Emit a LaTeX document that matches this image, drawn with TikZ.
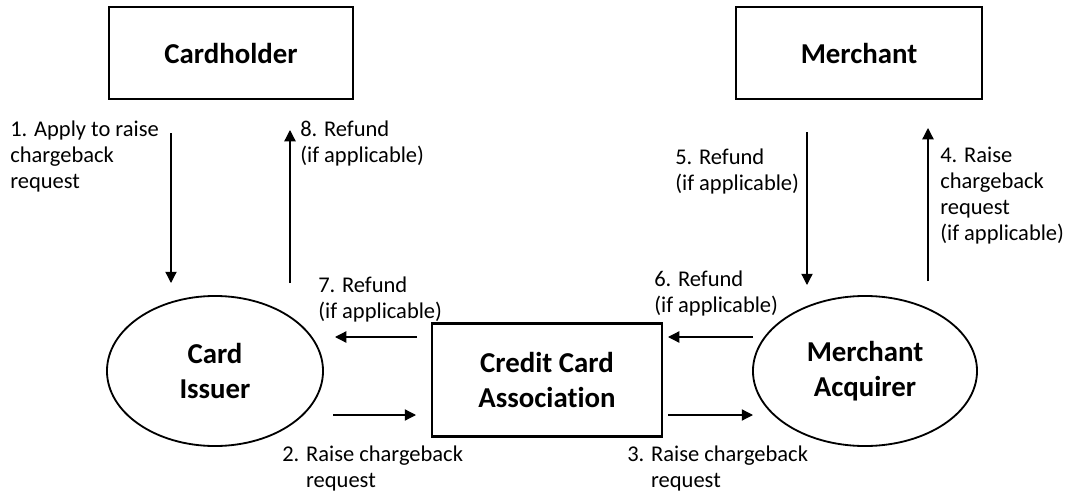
\documentclass[tikz,border=0pt]{standalone}
\usepackage{fontspec}
\setmainfont[Ligatures=NoCommon]{Carlito}
\usetikzlibrary{arrows.meta, positioning, calc, shapes.geometric}

\begin{document}
\begin{tikzpicture}[
  x=0.025cm, y=-0.025cm,
  pbox/.style={draw, line width=1.5pt, minimum height=2.3cm, align=center,
    font=\fontsize{20.5}{24.6}\selectfont\bfseries},
  poval/.style={draw, ellipse, line width=1.3pt, minimum width=5.4cm, minimum height=3.75cm,
    align=center, inner sep=0pt, font=\fontsize{20.5}{24.6}\selectfont\bfseries},
  lbl/.style={anchor=north west, inner sep=0pt, align=left,
    font=\fontsize{16}{18.4}\selectfont},
  arrow/.style={-{Triangle[length=8pt, width=8pt]}, line width=0.9pt}
]
  \useasboundingbox (0,0) rectangle (1068,493);

  \node[pbox, minimum width=6.1cm]  (holder) at (231,53) {Cardholder};
  \node[pbox, minimum width=6.15cm] (merch)  at (859,53) {Merchant};
  \node[poval] (issuer) at (215,371) {Card\\Issuer};
  \node[poval, minimum width=5.6cm] (acq) at (865,371) {Merchant\\Acquirer};
  \node[pbox, minimum width=5.75cm, minimum height=2.825cm] (assoc) at (547,380) {Credit Card\\Association};

  % free ends of the arrows
  \coordinate (p1a) at (171,133);  \coordinate (p1b) at (171,283);
  \coordinate (p8a) at (290,283);  \coordinate (p8b) at (290,130);
  \coordinate (p5a) at (807,132);  \coordinate (p5b) at (807,285);
  \coordinate (p4a) at (928,281);  \coordinate (p4b) at (928,128);
  \coordinate (p7a) at (417,337);  \coordinate (p7b) at (335,337);
  \coordinate (p2a) at (333,415);  \coordinate (p2b) at (416,415);
  \coordinate (p6a) at (753,337);  \coordinate (p6b) at (668,337);
  \coordinate (p3a) at (668,415);  \coordinate (p3b) at (753,415);

  \draw[arrow] (p1a) -- (p1b);
  \draw[arrow] (p8a) -- (p8b);
  \draw[arrow] (p5a) -- (p5b);
  \draw[arrow] (p4a) -- (p4b);
  \draw[arrow] (p7a) -- (p7b);
  \draw[arrow] (p2a) -- (p2b);
  \draw[arrow] (p6a) -- (p6b);
  \draw[arrow] (p3a) -- (p3b);

  % step labels
  \node[lbl] (t1) at (10,121)  {1. Apply to raise\\chargeback\\request};
  \node[lbl] (t8) at (300,121) {8. Refund\\(if applicable)};
  \node[lbl] (t5) at (675,149) {5. Refund\\(if applicable)};
  \node[lbl] (t4) at (940,147) {4. Raise\\chargeback\\request\\(if applicable)};
  \node[lbl] (t7) at (318,277) {7. Refund\\(if applicable)};
  \node[lbl] (t6) at (654,271) {6. Refund\\(if applicable)};
  \node[lbl] (t2) at (282,446) {2. Raise chargeback\\\phantom{2. }request};
  \node[lbl] (t3) at (627,446) {3. Raise chargeback\\\phantom{3. }request};
\end{tikzpicture}
\end{document}
